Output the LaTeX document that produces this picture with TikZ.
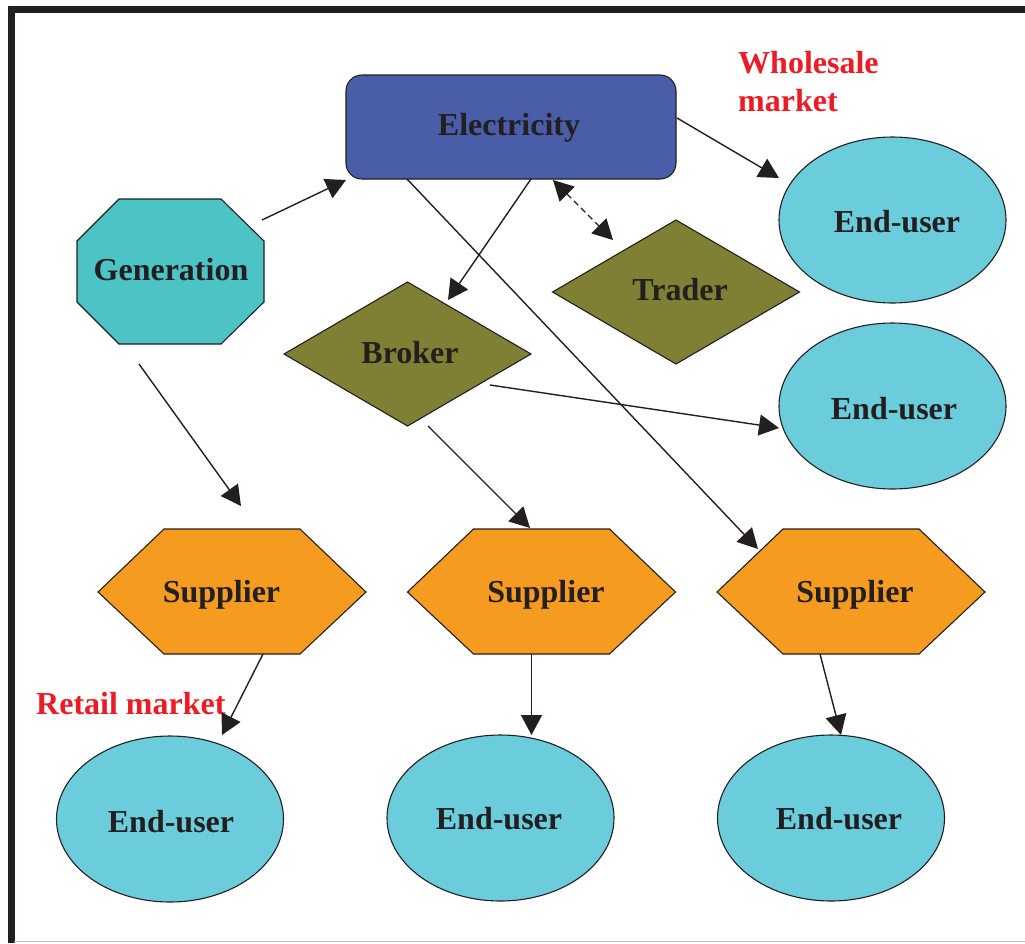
\documentclass[tikz,border=0pt]{standalone}
\usepackage{fontspec}
\setmainfont{Liberation Serif}
\usetikzlibrary{shapes.geometric,arrows.meta,calc}
\definecolor{ink}{HTML}{231F20}
\definecolor{elecblue}{HTML}{4A5DA8}
\definecolor{gencyan}{HTML}{4CC3C4}
\definecolor{eucyan}{HTML}{6BCDDC}
\definecolor{olive}{HTML}{808034}
\definecolor{suporange}{HTML}{F59B20}
\definecolor{mktred}{HTML}{EC1C24}
\begin{document}
\begin{tikzpicture}[x=1pt,y=-1pt,
  lab/.style={font=\fontsize{32}{38}\selectfont\bfseries, text=ink, anchor=base, inner sep=0pt},
  redlab/.style={font=\fontsize{32}{38}\selectfont\bfseries, text=mktred, anchor=base west, inner sep=0pt, align=left},
  outline/.style={draw=ink, line width=1.1pt},
  enduser/.style={outline, ellipse, fill=eucyan, minimum width=227pt, minimum height=166pt, inner sep=0pt, outer sep=0pt},
  dia/.style={outline, diamond, fill=olive, aspect=1.7, minimum width=247pt, minimum height=144pt, inner sep=0pt, outer sep=0pt},
  conn/.style={draw=ink, line width=1.4pt, -{Triangle[length=20pt,width=21pt]}},
  dconn/.style={draw=ink, line width=1.4pt, dash pattern=on 6pt off 4pt, {Triangle[length=20pt,width=21pt]}-{Triangle[length=20pt,width=21pt]}}
]
\useasboundingbox (0,0) rectangle (1025,943);
\fill[white] (0,0) rectangle (1025,943);
% frame
\draw[ink, line width=7pt] (11,943) -- (11,9.5) -- (1025,9.5);
\draw[gray!50, line width=1pt] (14,941.5) -- (1025,941.5);

% shapes
\node[outline, rectangle, rounded corners=16pt, fill=elecblue, minimum width=330pt, minimum height=104pt, inner sep=0pt] (elec) at (511,127) {};
\coordinate (gen) at (170.5,271.5);
\draw[outline, fill=gencyan] (119,199) -- (221,199) -- (264,241) -- (264,302) -- (221,344) -- (119,344) -- (77,302) -- (77,241) -- cycle;
\node[dia] (broker) at (407.5,354) {};
\node[dia] (trader) at (676,292) {};
\node[enduser] (eu1) at (892.5,220) {};
\node[enduser] (eu2) at (892.5,406) {};
\node[enduser] (eu3) at (170,819) {};
\node[enduser] (eu4) at (500.5,818) {};
\node[enduser] (eu5) at (831,818) {};
\coordinate (sup1) at (232,592);
\coordinate (sup2) at (541.5,592);
\coordinate (sup3) at (851,592);
\foreach \c in {sup1,sup2,sup3}{
  \draw[outline, fill=suporange] ([shift={(-134,0)}]\c) -- ([shift={(-68,-63)}]\c) -- ([shift={(68,-63)}]\c) -- ([shift={(134,0)}]\c) -- ([shift={(68,62)}]\c) -- ([shift={(-68,62)}]\c) -- cycle;
}

% texts
\node[lab] (telec) at (509,135) {Electricity};
\node[lab] (tgen) at (171,280) {Generation};
\node[lab] (tbroker) at (410,363) {Broker};
\node[lab] (ttrader) at (680,300) {Trader};
\node[lab] (tsup1) at (221.5,602) {Supplier};
\node[lab] (tsup2) at (546,602) {Supplier};
\node[lab] (tsup3) at (855,602) {Supplier};
\node[lab] (teu1) at (897,232) {End-user};
\node[lab] (teu2) at (894,419) {End-user};
\node[lab] (teu3) at (171,832) {End-user};
\node[lab] (teu4) at (499,829) {End-user};
\node[lab] (teu5) at (839,829) {End-user};
\node[redlab] (whole) at (738,111) {Wholesale\\market};
\node[redlab] (retail) at (36,714) {Retail market};

% connectors
\draw[conn] ([shift={(91.5,-51.5)}]gen) -- ([shift={(-165,53)}]elec.center);
\draw[conn] ([shift={(166,-9)}]elec.center) -- ([shift={(-113.5,-42)}]eu1.center);
\draw[conn] ([shift={(20,52)}]elec.center) -- ([shift={(40.5,-54)}]broker.center);
\draw[dconn] ([shift={(42,53)}]elec.center) -- ([shift={(-63,-52)}]trader.center);
\draw[conn] ([shift={(-104,52)}]elec.center) -- ([shift={(-93,-43)}]sup3);
\draw[conn] ([shift={(82.5,31)}]broker.center) -- ([shift={(-113.5,22)}]eu2.center);
\draw[conn] ([shift={(20.5,72)}]broker.center) -- ([shift={(-11.5,-64)}]sup2);
\draw[conn] ([shift={(-31.5,92.5)}]gen) -- ([shift={(9,-86)}]sup1);
\draw[conn] ([shift={(31,62)}]sup1) -- ([shift={(52,-84)}]eu3.center);
\draw[conn] ([shift={(-10,62)}]sup2) -- ([shift={(31,-83)}]eu4.center);
\draw[conn] ([shift={(-31,62)}]sup3) -- ([shift={(10,-83)}]eu5.center);
\end{tikzpicture}
\end{document}
